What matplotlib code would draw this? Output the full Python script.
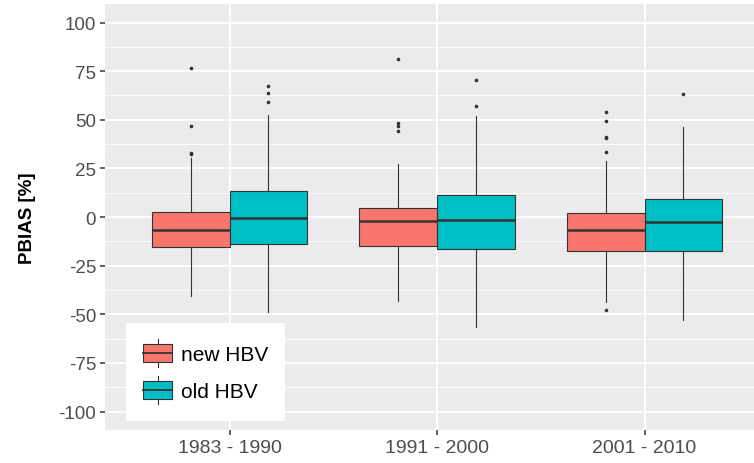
import matplotlib
matplotlib.use("Agg")
import matplotlib.pyplot as plt
from matplotlib.patches import Rectangle, Patch
from matplotlib.lines import Line2D
from matplotlib.legend_handler import HandlerBase
from matplotlib.ticker import MultipleLocator

plt.rcParams.update({"font.family": ["Liberation Sans", "DejaVu Sans"],
                     "axes.unicode_minus": False})

PERIODS = ["1983 - 1990", "1991 - 2000", "2001 - 2010"]
MODELS = ["new HBV", "old HBV"]
COLORS = {"new HBV": "#F8766D", "old HBV": "#00BFC4"}

# box statistics, per period
NEW_Q1 = [-15.6, -15.1, -17.3]
NEW_MED = [-6.7, -1.9, -6.7]
NEW_Q3 = [2.7, 4.5, 2.1]
NEW_LO = [-40.4, -43.0, -43.8]
NEW_HI = [30.1, 27.2, 28.6]
NEW_OUT = [[76.5, 46.9, 32.9, 32.2],
           [81.0, 48.6, 46.6, 44.2],
           [53.8, 49.2, 41.2, 40.4, 33.2, -47.8]]

OLD_Q1 = [-13.9, -16.4, -17.3]
OLD_MED = [-0.7, -1.5, -2.7]
OLD_Q3 = [13.5, 11.3, 9.1]
OLD_LO = [-48.6, -56.3, -52.9]
OLD_HI = [52.4, 52.0, 46.4]
OLD_OUT = [[67.4, 64.0, 58.9],
           [70.7, 57.2],
           [63.5]]

DARK = "#333333"
BOXW = 0.375


def stats(q1, med, q3, lo, hi, out):
    return [dict(q1=a, med=b, q3=c, whislo=d, whishi=e, fliers=f)
            for a, b, c, d, e, f in zip(q1, med, q3, lo, hi, out)]


class BoxKey(HandlerBase):
    # ggplot-like boxplot legend key: box, median and whiskers
    def create_artists(self, legend, orig_handle, xdescent, ydescent,
                       width, height, fontsize, trans):
        fc = orig_handle.get_facecolor()
        x0, y0 = -xdescent, -ydescent
        bh = height * 0.64
        by = y0 + (height - bh) / 2
        xm = x0 + width / 2
        arts = [Line2D([xm, xm], [y0, y0 + height], color=DARK, lw=0.8),
                Rectangle((x0, by), width, bh, facecolor=fc, edgecolor=DARK, lw=0.8),
                Line2D([x0, x0 + width], [y0 + height / 2] * 2, color=DARK, lw=1.3)]
        for a in arts:
            a.set_transform(trans)
        return arts


fig = plt.figure(figsize=(7.54, 4.64), dpi=100)
ax = fig.add_axes([0.1393, 0.0711, 0.8806, 0.918])
ax.set_facecolor("#EBEBEB")

for k, (name, st) in enumerate([
        ("new HBV", stats(NEW_Q1, NEW_MED, NEW_Q3, NEW_LO, NEW_HI, NEW_OUT)),
        ("old HBV", stats(OLD_Q1, OLD_MED, OLD_Q3, OLD_LO, OLD_HI, OLD_OUT))]):
    pos = [i + 1 + (k - 0.5) * BOXW for i in range(len(PERIODS))]
    ax.bxp(st, positions=pos, widths=BOXW, patch_artist=True, showcaps=False,
           boxprops=dict(facecolor=COLORS[name], edgecolor=DARK, lw=0.8),
           medianprops=dict(color=DARK, lw=1.8, solid_capstyle="butt"),
           whiskerprops=dict(color=DARK, lw=0.8),
           flierprops=dict(marker="o", markersize=2.6, markerfacecolor=DARK,
                           markeredgecolor="none"),
           manage_ticks=False, zorder=3)

ax.set_xlim(0.4, 3.6)
ax.set_ylim(-109.5, 109.5)
ax.set_xticks(range(1, len(PERIODS) + 1))
ax.set_xticklabels(PERIODS, fontsize=14)
ax.yaxis.set_major_locator(MultipleLocator(25))
ax.yaxis.set_minor_locator(MultipleLocator(12.5))
ax.grid(which="major", color="white", lw=1.3, zorder=0)
ax.grid(which="minor", axis="y", color="white", lw=0.6, zorder=0)
ax.set_axisbelow(True)
for s in ax.spines.values():
    s.set_visible(False)
ax.tick_params(which="major", length=3.5, width=1.1, color=DARK,
               labelcolor="#4D4D4D", pad=3)
ax.tick_params(axis="y", labelsize=13.5)
ax.tick_params(which="minor", length=0)
ax.set_ylabel("PBIAS [%]", fontsize=13.5, fontweight="bold", labelpad=16)

handles = [Patch(facecolor=COLORS[m], edgecolor=DARK) for m in MODELS]
leg = ax.legend(handles, MODELS, loc="lower left", bbox_to_anchor=(0.032, 0.021),
                borderaxespad=0, fontsize=15, frameon=True, fancybox=False,
                handler_map={Patch: BoxKey()}, handlelength=1.4, handleheight=1.69,
                labelspacing=0.43, handletextpad=0.43, borderpad=0.8)
leg.get_frame().set_edgecolor("none")
leg.get_frame().set_facecolor("white")
leg.get_frame().set_alpha(1)

fig.savefig("out.png", dpi=100)
